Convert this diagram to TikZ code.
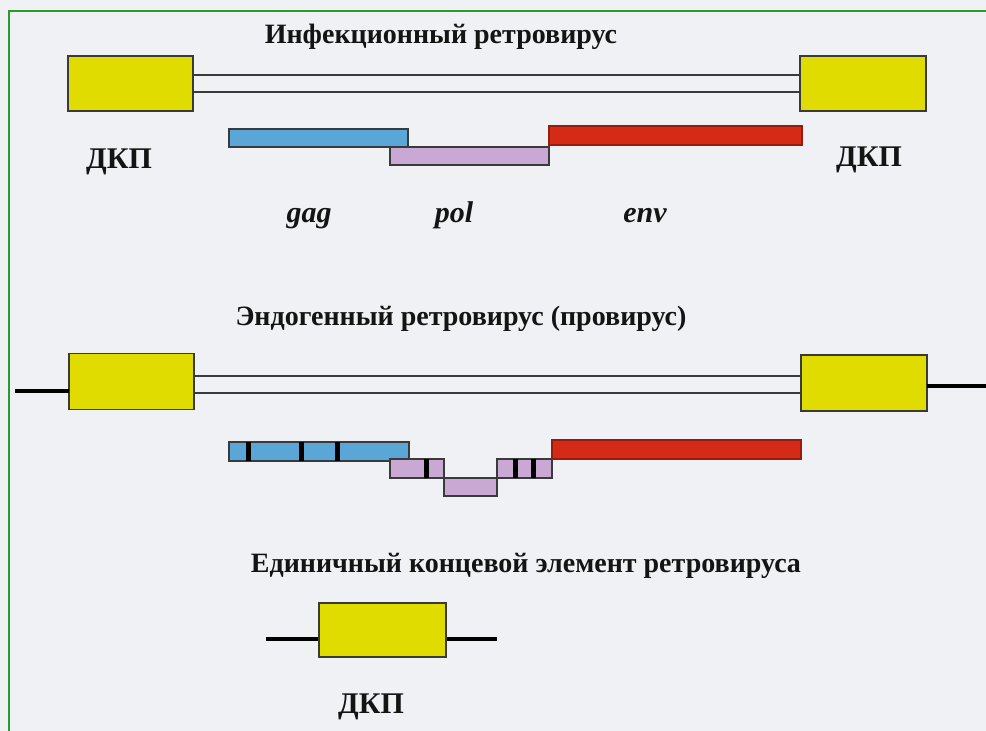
\documentclass[tikz,border=0pt]{standalone}
\usepackage{fontspec}
\setmainfont{Liberation Serif}
\definecolor{bgc}{HTML}{EFF1F4}
\definecolor{frame}{HTML}{2A9A2A}
\definecolor{ltryel}{HTML}{E0DC00}
\definecolor{gagblue}{HTML}{5AA6D6}
\definecolor{pollil}{HTML}{C9A9D3}
\definecolor{envred}{HTML}{D52A16}
\definecolor{edge}{HTML}{3A3A3A}
\begin{document}
\begin{tikzpicture}[x=1pt,y=-1pt,
  box/.style={draw=edge, line width=1.3pt, inner sep=0pt, outer sep=0pt},
  ltr/.style={box, fill=ltryel},
  gagbar/.style={box, fill=gagblue, line width=1.1pt},
  polbar/.style={box, fill=pollil, line width=1.1pt},
  envbar/.style={box, fill=envred, draw=envred!70!black, line width=1.1pt},
  stripe/.style={fill=black, minimum width=5pt, inner sep=0pt, outer sep=0pt},
  strand/.style={draw=edge, line width=1.3pt},
  flank/.style={draw=black, line width=3.2pt},
  title/.style={font=\bfseries\fontsize{28}{30}\selectfont, anchor=base, text=black!92},
  lbl/.style={font=\bfseries\fontsize{30}{32}\selectfont, anchor=base, text=black!92},
  gene/.style={font=\bfseries\itshape\fontsize{30}{32}\selectfont, anchor=base, text=black!92}
]
\useasboundingbox (0,0) rectangle (986,731);
\fill[bgc] (0,0) rectangle (986,731);
\coordinate (fc) at (9,11);
\coordinate (fb) at (9,731);
\coordinate (fr) at (986,11);
\draw[frame, line width=2pt] (fb) -- (fc) -- (fr);

% ---------- Infectious retrovirus ----------
\node[title] (t1) at (441,43) {Инфекционный ретровирус};
\node[ltr, minimum width=125pt, minimum height=55pt] (L1) at (130.5,83.5) {};
\node[ltr, minimum width=126pt, minimum height=55pt] (R1) at (863,83.5) {};
\draw[strand] ([yshift=-8.5pt]L1.east) -- ([yshift=-8.5pt]R1.west);
\draw[strand] ([yshift=8.5pt]L1.east) -- ([yshift=8.5pt]R1.west);
\node[gagbar, minimum width=179pt, minimum height=18pt] (g1) at (318.5,138) {};
\node[polbar, minimum width=159pt, minimum height=18pt] (p1) at (469.5,156) {};
\node[envbar, minimum width=253pt, minimum height=19pt] (e1) at (675.5,135.5) {};
\node[lbl] (d1) at (119,168) {ДКП};
\node[lbl] (d2) at (869,166) {ДКП};
\node[gene] (gag) at (309,222) {gag};
\node[gene] (pol) at (454,222) {pol};
\node[gene] (env) at (645,222) {env};

% ---------- Endogenous retrovirus ----------
\node[title] (t2) at (461,325) {Эндогенный ретровирус (провирус)};
\node[ltr, minimum width=125pt, minimum height=56pt] (L2) at (131.5,381.5) {};
\node[ltr, minimum width=126pt, minimum height=56pt] (R2) at (864,383) {};
\coordinate (s1) at (0,376);
\coordinate (s2) at (0,393);
\draw[strand] (L2.east |- s1) -- (R2.west |- s1);
\draw[strand] (L2.east |- s2) -- (R2.west |- s2);
\coordinate (hl) at (15,391);
\coordinate (hr) at (986,386);
\draw[flank] (hl) -- (L2.west |- hl);
\draw[flank] (R2.east |- hr) -- (hr);
\node[gagbar, minimum width=180pt, minimum height=19pt] (g2) at (319,451.5) {};
\node[polbar, minimum width=54pt, minimum height=19pt] (p2a) at (417,468.5) {};
\node[polbar, minimum width=53pt, minimum height=18pt] (p2b) at (470.5,487) {};
\node[polbar, minimum width=55pt, minimum height=19pt] (p2c) at (524.5,468.5) {};
\node[envbar, minimum width=249pt, minimum height=19pt] (e2) at (676.5,449.5) {};
\node[stripe, minimum height=19pt] (k1) at (248,451.5) {};
\node[stripe, minimum height=19pt] (k2) at (301,451.5) {};
\node[stripe, minimum height=19pt] (k3) at (337,451.5) {};
\node[stripe, minimum height=19pt] (k4) at (426,468.5) {};
\node[stripe, minimum height=19pt] (k5) at (515,468.5) {};
\node[stripe, minimum height=19pt] (k6) at (533,468.5) {};

% ---------- Solo LTR ----------
\node[title] (t3) at (526,572) {Единичный концевой элемент ретровируса};
\coordinate (ol) at (266,639);
\coordinate (or) at (497,639);
\draw[flank] (ol) -- (or);
\node[ltr, minimum width=127pt, minimum height=54pt] (B3) at (382.5,630) {};
\node[lbl] (d3) at (371,713) {ДКП};
\end{tikzpicture}
\end{document}
